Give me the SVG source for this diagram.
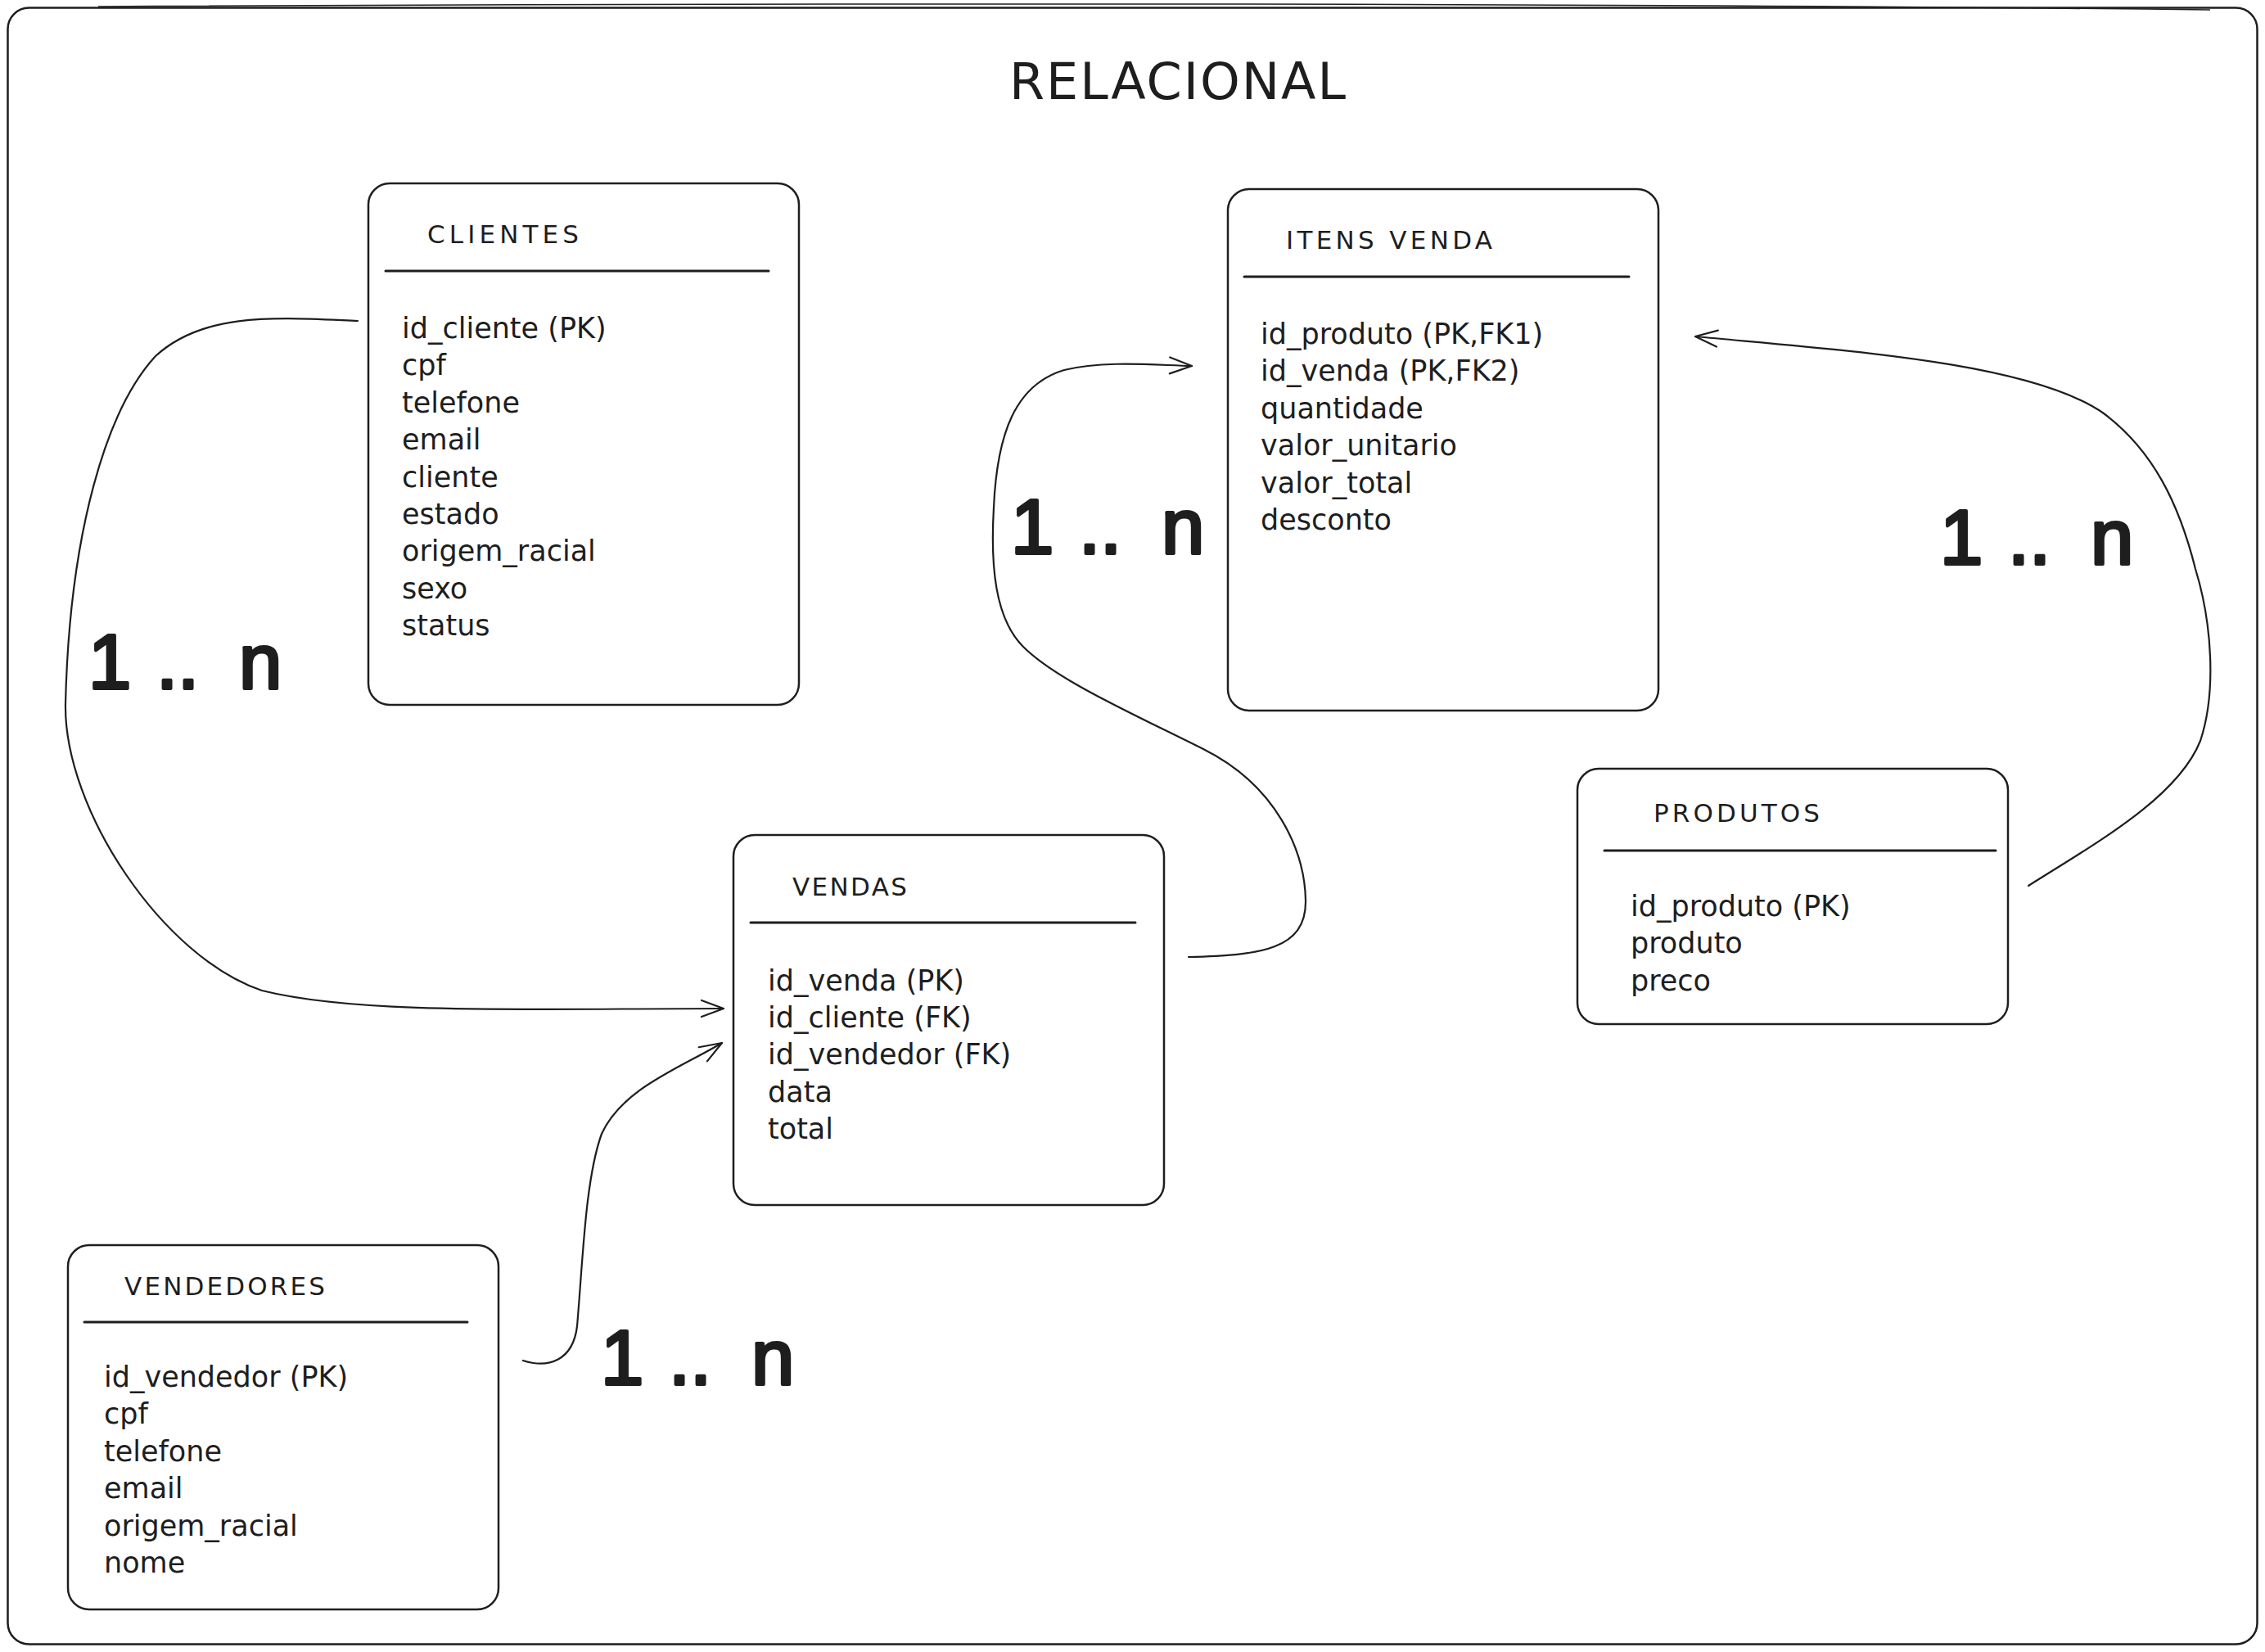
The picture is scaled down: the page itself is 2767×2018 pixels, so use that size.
<svg xmlns="http://www.w3.org/2000/svg" width="2767" height="2018" viewBox="0 0 2767 2018">
<style>
.box{fill:#ffffff;stroke:#1e1e1e;stroke-width:2.5}
.sep{stroke:#1e1e1e;stroke-width:3;stroke-linecap:round}
.ttl{font-family:"DejaVu Sans",sans-serif;font-size:31px;fill:#1e1e1e}
.att{font-family:"DejaVu Sans",sans-serif;font-size:35px;fill:#1e1e1e}
.card{font-family:"Liberation Sans",Arial,sans-serif;font-weight:normal;font-size:94px;fill:#1e1e1e;stroke:#1e1e1e;stroke-width:4;stroke-linejoin:round}
.con{fill:none;stroke:#1e1e1e;stroke-width:2.2;stroke-linecap:round;stroke-linejoin:round}
</style>
<defs>
<marker id="ah" viewBox="-30 -15 32 30" markerWidth="32" markerHeight="30" refX="0" refY="0" orient="auto" markerUnits="userSpaceOnUse">
<path d="M -27 -10 L 0 0 L -27 10" fill="none" stroke="#1e1e1e" stroke-width="2.2" stroke-linecap="round" stroke-linejoin="round"/>
</marker>
</defs>
<rect width="2767" height="2018" fill="#ffffff"/>
<g id="frame">
<rect x="9.5" y="9.5" width="2748" height="1999" rx="26" fill="none" stroke="#1e1e1e" stroke-width="2.5"/>
<path d="M 120 8 C 900 4, 1800 2, 2700 12" fill="none" stroke="#1e1e1e" stroke-width="1.5"/>
<text x="1233" y="121" font-family="DejaVu Sans, sans-serif" font-size="62" fill="#1e1e1e" textLength="411" lengthAdjust="spacing">RELACIONAL</text>
</g>
<g id="connectors">
<path class="con" marker-end="url(#ah)" d="M 437 392 C 340 388, 250 380, 190 435 C 130 500, 85 650, 80 860 C 78 990, 200 1170, 320 1210 C 440 1240, 650 1232, 884 1232"/>
<path class="con" marker-end="url(#ah)" d="M 639 1662 C 670 1672, 700 1662, 705 1620 C 712 1540, 715 1440, 735 1385 C 760 1330, 830 1305, 882 1274"/>
<path class="con" marker-end="url(#ah)" d="M 1452 1169 C 1540 1167, 1596 1160, 1595 1100 C 1594 1040, 1560 960, 1470 915 C 1380 870, 1290 830, 1250 790 C 1215 755, 1210 690, 1214 620 C 1218 530, 1240 470, 1300 452 C 1350 440, 1410 446, 1456 447"/>
<path class="con" marker-end="url(#ah)" d="M 2478 1082 C 2560 1030, 2660 975, 2688 905 C 2708 845, 2702 760, 2682 695 C 2662 615, 2630 550, 2570 505 C 2480 442, 2250 428, 2071 411"/>
</g>
<g id="labels">
<text class="card" y="841"><tspan x="108">1</tspan><tspan x="191">..</tspan><tspan x="292">n</tspan></text>
<text class="card" y="676"><tspan x="1235">1</tspan><tspan x="1318">..</tspan><tspan x="1419">n</tspan></text>
<text class="card" y="689"><tspan x="2370">1</tspan><tspan x="2453">..</tspan><tspan x="2554">n</tspan></text>
<text class="card" y="1691"><tspan x="734">1</tspan><tspan x="817">..</tspan><tspan x="918">n</tspan></text>
</g>
<g id="clientes">
<rect class="box" x="450" y="224" width="526" height="637" rx="26"/>
<text class="ttl" x="522" y="297" textLength="185" lengthAdjust="spacing">CLIENTES</text>
<line class="sep" x1="471" y1="331" x2="939" y2="331"/>
<text class="att"><tspan x="491" y="413">id_cliente (PK)</tspan><tspan x="491" dy="45.4">cpf</tspan><tspan x="491" dy="45.4">telefone</tspan><tspan x="491" dy="45.4">email</tspan><tspan x="491" dy="45.4">cliente</tspan><tspan x="491" dy="45.4">estado</tspan><tspan x="491" dy="45.4">origem_racial</tspan><tspan x="491" dy="45.4">sexo</tspan><tspan x="491" dy="45.4">status</tspan></text>
</g>
<g id="itens_venda">
<rect class="box" x="1500" y="231" width="526" height="637" rx="26"/>
<text class="ttl" x="1571" y="304" textLength="252" lengthAdjust="spacing">ITENS VENDA</text>
<line class="sep" x1="1520" y1="338" x2="1990" y2="338"/>
<text class="att"><tspan x="1540" y="420">id_produto (PK,FK1)</tspan><tspan x="1540" dy="45.4">id_venda (PK,FK2)</tspan><tspan x="1540" dy="45.4">quantidade</tspan><tspan x="1540" dy="45.4">valor_unitario</tspan><tspan x="1540" dy="45.4">valor_total</tspan><tspan x="1540" dy="45.4">desconto</tspan></text>
</g>
<g id="vendas">
<rect class="box" x="896" y="1020" width="526" height="452" rx="26"/>
<text class="ttl" x="968" y="1094" textLength="140" lengthAdjust="spacing">VENDAS</text>
<line class="sep" x1="917" y1="1127" x2="1387" y2="1127"/>
<text class="att"><tspan x="938" y="1210">id_venda (PK)</tspan><tspan x="938" dy="45.2">id_cliente (FK)</tspan><tspan x="938" dy="45.2">id_vendedor (FK)</tspan><tspan x="938" dy="45.2">data</tspan><tspan x="938" dy="45.2">total</tspan></text>
</g>
<g id="vendedores">
<rect class="box" x="83" y="1521" width="526" height="445" rx="26"/>
<text class="ttl" x="152" y="1582" textLength="245" lengthAdjust="spacing">VENDEDORES</text>
<line class="sep" x1="103" y1="1615" x2="571" y2="1615"/>
<text class="att"><tspan x="127" y="1694">id_vendedor (PK)</tspan><tspan x="127" dy="45.4">cpf</tspan><tspan x="127" dy="45.4">telefone</tspan><tspan x="127" dy="45.4">email</tspan><tspan x="127" dy="45.4">origem_racial</tspan><tspan x="127" dy="45.4">nome</tspan></text>
</g>
<g id="produtos">
<rect class="box" x="1927" y="939" width="526" height="312" rx="26"/>
<text class="ttl" x="2020" y="1004" textLength="203" lengthAdjust="spacing">PRODUTOS</text>
<line class="sep" x1="1960" y1="1039" x2="2438" y2="1039"/>
<text class="att"><tspan x="1992" y="1119">id_produto (PK)</tspan><tspan x="1992" dy="45.4">produto</tspan><tspan x="1992" dy="45.4">preco</tspan></text>
</g>
</svg>
